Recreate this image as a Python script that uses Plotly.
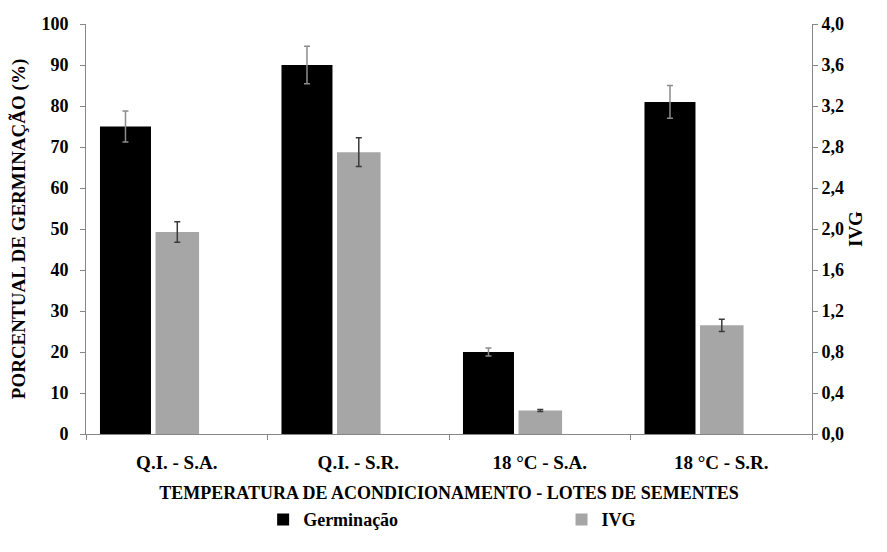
import plotly.graph_objects as go

categories = ["Q.I. - S.A.", "Q.I. - S.R.", "18 °C - S.A.", "18 °C - S.R."]
germinacao = [75, 90, 20, 81]
germinacao_err = [3.8, 4.6, 1.0, 4.0]
ivg = [1.97, 2.75, 0.23, 1.06]
ivg_err = [0.10, 0.14, 0.01, 0.06]

left_ticks = list(range(0, 101, 10))
right_tickvals = [0, 0.4, 0.8, 1.2, 1.6, 2.0, 2.4, 2.8, 3.2, 3.6, 4.0]
right_ticktext = ["0,0", "0,4", "0,8", "1,2", "1,6", "2,0", "2,4", "2,8", "3,2", "3,6", "4,0"]

FF = "Liberation Serif"
AX = "#868686"


def f(size):
    return dict(family=FF, size=size, color="#000000", weight="bold")


fig = go.Figure()
fig.add_trace(go.Bar(
    x=categories, y=germinacao, name="Germinação",
    marker=dict(color="#000000", line=dict(width=0)),
    offset=-0.423, width=0.281,
    error_y=dict(type="data", array=germinacao_err, color="#8c8c8c", thickness=1.5, width=3),
    yaxis="y", legend="legend",
))
fig.add_trace(go.Bar(
    x=categories, y=ivg, name="IVG",
    marker=dict(color="#a6a6a6", line=dict(width=0)),
    offset=-0.117, width=0.24,
    error_y=dict(type="data", array=ivg_err, color="#3a3a3a", thickness=1.5, width=3),
    yaxis="y2", legend="legend2",
))

fig.update_layout(
    width=879, height=544,
    margin=dict(l=78, r=75, t=16, b=118),
    paper_bgcolor="white", plot_bgcolor="white",
    barmode="overlay",
    font=dict(family=FF, color="#000000"),
    xaxis=dict(
        range=[-0.5, 3.5], automargin=False,
        showline=True, linecolor=AX, linewidth=1,
        ticks="outside", tickson="boundaries", ticklen=5, tickcolor=AX,
        tickfont=f(19), ticklabelstandoff=11,
        title=dict(text="TEMPERATURA DE ACONDICIONAMENTO - LOTES DE SEMENTES",
                   font=f(18), standoff=14),
    ),
    yaxis=dict(
        range=[0, 100], tickvals=left_ticks, showgrid=False, zeroline=False,
        automargin=False,
        showline=True, linecolor=AX, linewidth=1,
        ticks="outside", ticklen=5, tickcolor=AX,
        tickfont=f(18), ticklabelstandoff=8,
        title=dict(text="PORCENTUAL DE GERMINAÇÃO (%)", font=f(19), standoff=14),
    ),
    yaxis2=dict(
        range=[0, 4.0], tickvals=right_tickvals, ticktext=right_ticktext,
        overlaying="y", side="right", showgrid=False, zeroline=False,
        automargin=False,
        showline=True, linecolor=AX, linewidth=1,
        ticks="outside", ticklen=5, tickcolor=AX,
        tickfont=f(18), ticklabelstandoff=0,
    ),
    annotations=[dict(
        text="IVG", xref="paper", yref="paper", x=(855 - 86) / 726, y=0.5,
        xanchor="center", yanchor="middle", textangle=-90, showarrow=False,
        font=f(19),
    )],
    legend=dict(
        orientation="h", x=0.244, xanchor="left", y=-0.209, yanchor="middle",
        font=f(18), itemwidth=30, bgcolor="rgba(0,0,0,0)",
    ),
    legend2=dict(
        orientation="h", x=0.655, xanchor="left", y=-0.209, yanchor="middle",
        font=f(18), itemwidth=30, bgcolor="rgba(0,0,0,0)",
    ),
    showlegend=True,
)

fig.write_html("out.html")
